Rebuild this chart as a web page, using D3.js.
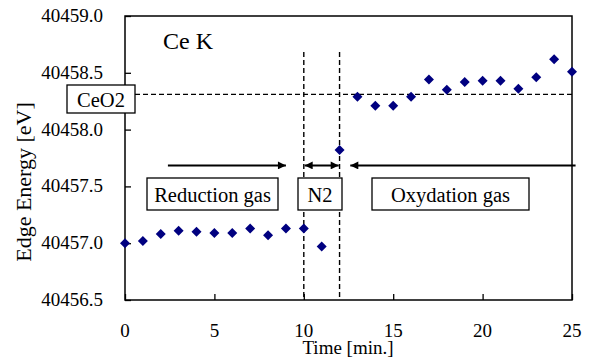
<!DOCTYPE html>
<html lang="en">
<head>
<meta charset="UTF-8">
<script src="https://d3js.org/d3.v7.min.js"></script>
<style>
  body { margin: 0; background: #fff; }
  text { font-family: "Liberation Serif", "Times New Roman", serif; fill: #000; }
</style>
</head>
<body>
<div id="chart"></div>
<script>
// data
var times = [0, 1, 2, 3, 4, 5, 6, 7, 8, 9, 10, 11, 12, 13, 14, 15, 16, 17, 18, 19, 20, 21, 22, 23, 24, 25];
var energy = [40457.00, 40457.02, 40457.08, 40457.11, 40457.10, 40457.09, 40457.09, 40457.13, 40457.07, 40457.13,
              40457.13, 40456.97, 40457.82, 40458.29, 40458.21, 40458.21, 40458.29, 40458.44, 40458.35, 40458.42,
              40458.43, 40458.43, 40458.36, 40458.46, 40458.62, 40458.51];
var xTicks = [0, 5, 10, 15, 20, 25];
var yTicks = [40456.5, 40457.0, 40457.5, 40458.0, 40458.5, 40459.0];
var ceo2Level = 40458.31;
var switchTimes = [10, 12];

var width = 591, height = 363;
var margin = {top: 16, right: 19, bottom: 63, left: 125};

var svg = d3.select("#chart")
  .append("svg")
  .attr("width", width)
  .attr("height", height);

var x = d3.scaleLinear()
  .domain([0, 25])
  .range([margin.left, width - margin.right]);

var y = d3.scaleLinear()
  .domain([40456.5, 40459.0])
  .range([height - margin.bottom, margin.top]);

// arrowheads
var defs = svg.append("defs");
defs.append("marker")
  .attr("id", "arr")
  .attr("viewBox", "0 0 10 10")
  .attr("refX", 10).attr("refY", 5)
  .attr("markerWidth", 5).attr("markerHeight", 4)
  .attr("markerUnits", "strokeWidth")
  .attr("orient", "auto-start-reverse")
  .append("path")
  .attr("d", "M0,0 L10,5 L0,10 z")
  .attr("fill", "#000");

// frame
svg.append("rect")
  .attr("x", x(0)).attr("y", y(40459))
  .attr("width", x(25) - x(0))
  .attr("height", y(40456.5) - y(40459))
  .attr("fill", "none")
  .attr("stroke", "#000")
  .attr("stroke-width", 1.5);

// axes, ticks pointing inside
var yAxis = svg.append("g")
  .attr("transform", "translate(" + x(0) + ",0)")
  .call(d3.axisRight(y).tickValues(yTicks).tickSize(6).tickFormat(""));
yAxis.select(".domain").remove();
yAxis.selectAll("line").attr("stroke-width", 1.3);

var xAxis = svg.append("g")
  .attr("transform", "translate(0," + y(40456.5) + ")")
  .call(d3.axisTop(x).tickValues(xTicks).tickSize(6).tickFormat(""));
xAxis.select(".domain").remove();
xAxis.selectAll("line").attr("stroke-width", 1.3);

// tick labels
svg.selectAll(".ylab")
  .data(yTicks)
  .enter().append("text")
  .attr("x", x(0) - 22)
  .attr("y", function(d) { return y(d) + 6; })
  .attr("text-anchor", "end")
  .style("font-size", "19px")
  .text(d3.format(".1f"));

svg.selectAll(".xlab")
  .data(xTicks)
  .enter().append("text")
  .attr("x", function(d) { return x(d); })
  .attr("y", y(40456.5) + 37)
  .attr("text-anchor", "middle")
  .style("font-size", "19px")
  .text(function(d) { return d; });

// axis titles
svg.append("text")
  .attr("transform", "translate(31,182)rotate(-90)")
  .attr("text-anchor", "middle")
  .style("font-size", "22px")
  .text("Edge Energy [eV]");

svg.append("text")
  .attr("x", 348)
  .attr("y", 354)
  .attr("text-anchor", "middle")
  .style("font-size", "19px")
  .text("Time [min.]");

// CeO2 reference level
svg.append("line")
  .attr("x1", 135).attr("x2", x(25))
  .attr("y1", y(ceo2Level)).attr("y2", y(ceo2Level))
  .attr("stroke", "#000")
  .attr("stroke-width", 1.4)
  .attr("stroke-dasharray", "5,3");

// gas switch lines
svg.selectAll(".switch")
  .data(switchTimes)
  .enter().append("line")
  .attr("x1", function(d) { return x(d); })
  .attr("x2", function(d) { return x(d); })
  .attr("y1", 52)
  .attr("y2", y(40456.5))
  .attr("stroke", "#000")
  .attr("stroke-width", 1.4)
  .attr("stroke-dasharray", "5,3");

// phase arrows
var arrowY = y(40457.685);
var arrows = [
  {from: 2.4, to: 9.0, start: false, end: true},
  {from: 10.05, to: 11.95, start: true, end: true},
  {from: 12.6, to: 25.2, start: true, end: false}
];
svg.selectAll(".arrow")
  .data(arrows)
  .enter().append("line")
  .attr("x1", function(d) { return x(d.from); })
  .attr("x2", function(d) { return x(d.to); })
  .attr("y1", arrowY).attr("y2", arrowY)
  .attr("stroke", "#000")
  .attr("stroke-width", 2)
  .attr("marker-start", function(d) { return d.start ? "url(#arr)" : null; })
  .attr("marker-end", function(d) { return d.end ? "url(#arr)" : null; });

// labelled boxes
var boxes = [
  {text: "CeO2", x0: 67, x1: 135, y0: 85, y1: 113},
  {text: "Reduction gas", x0: 147, x1: 278, y0: 178, y1: 210},
  {text: "N2", x0: 298, x1: 342, y0: 178, y1: 210},
  {text: "Oxydation gas", x0: 372, x1: 529, y0: 178, y1: 210}
];
var bx = svg.selectAll(".box")
  .data(boxes)
  .enter().append("g");
bx.append("rect")
  .attr("x", function(d) { return d.x0; })
  .attr("y", function(d) { return d.y0; })
  .attr("width", function(d) { return d.x1 - d.x0; })
  .attr("height", function(d) { return d.y1 - d.y0; })
  .attr("fill", "#fff")
  .attr("stroke", "#000")
  .attr("stroke-width", 1.3);
bx.append("text")
  .attr("x", function(d) { return (d.x0 + d.x1) / 2; })
  .attr("y", function(d) { return (d.y0 + d.y1) / 2 + 7.5; })
  .attr("text-anchor", "middle")
  .style("font-size", "20.5px")
  .text(function(d) { return d.text; });

// title inside plot
svg.append("text")
  .attr("x", 163)
  .attr("y", 49)
  .style("font-size", "24px")
  .text("Ce K");

// data points (diamonds)
var pts = times.map(function(t, i) { return {t: t, e: energy[i]}; });
svg.selectAll(".pt")
  .data(pts)
  .enter().append("path")
  .attr("d", d3.symbol().type(d3.symbolSquare).size(50))
  .attr("transform", function(d) { return "translate(" + x(d.t) + "," + y(d.e) + ")rotate(45)"; })
  .attr("fill", "#000080");
</script>
</body>
</html>
